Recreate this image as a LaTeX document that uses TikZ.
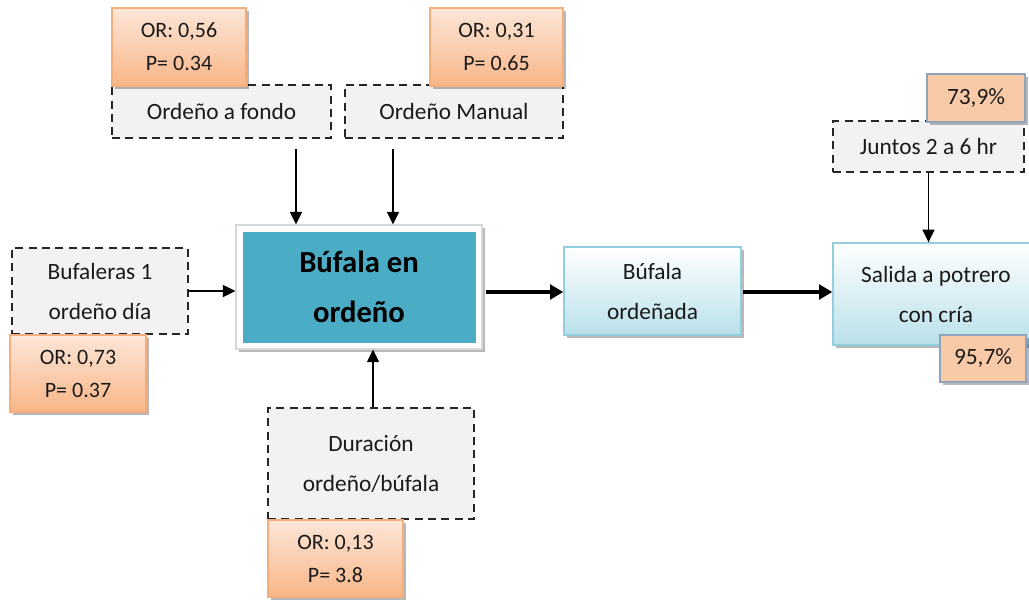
\documentclass[tikz,border=0pt]{standalone}
\usepackage{fontspec}
\setmainfont{Carlito}
\usetikzlibrary{shadows,calc,arrows.meta}

\definecolor{txt}{HTML}{1A1A1A}
\definecolor{dashfill}{HTML}{F2F2F2}
\definecolor{orTop}{HTML}{FCE6D8}
\definecolor{orBot}{HTML}{F8B687}
\definecolor{orLine}{HTML}{F3AE7C}
\definecolor{pctFill}{HTML}{F9CAA7}
\definecolor{pctLine}{HTML}{8FA3BB}
\definecolor{teal}{HTML}{4BACC6}
\definecolor{frameLine}{HTML}{D4D9DC}
\definecolor{blTop}{HTML}{FFFFFF}
\definecolor{blBot}{HTML}{B9E0EA}
\definecolor{blLine}{HTML}{93CEDD}

\tikzset{
  sz/.style 2 args={minimum width=#1*0.75pt, minimum height=#2*0.75pt, inner sep=0pt},
  shd/.style={drop shadow={shadow xshift=2.2pt, shadow yshift=-2.2pt, fill=black, opacity=0.28}},
  regtext/.style={text=txt, align=center, font=\fontsize{17.5}{30}\selectfont},
  dashbox/.style={regtext, draw=black!85, fill=dashfill, line width=1.7pt,
                  dash pattern=on 6pt off 4pt},
  orbox/.style={shd, draw=orLine, line width=0.8pt, top color=orTop, bottom color=orBot,
                text=txt, align=center, font=\fontsize{16.5}{24.75}\selectfont},
  pctbox/.style={shd, draw=pctLine, line width=1pt, fill=pctFill,
                 text=txt, font=\fontsize{17.5}{20}\selectfont},
  bluebox/.style={regtext, shd, draw=blLine, line width=1pt, top color=blTop, bottom color=blBot},
  thin arr/.style={draw=black, line width=1.2pt, -{Triangle[length=9.5pt,width=9pt]}},
  thick arr/.style={draw=black, line width=3pt, -{Triangle[length=10pt,width=11pt]}},
}

\begin{document}
\begin{tikzpicture}[x=0.75pt, y=-0.75pt]
\useasboundingbox (0,0) rectangle (1029,601);
\clip (0,0) rectangle (1029,601);

% factor boxes (dashed)
\node[dashbox, sz={219}{53}] (fondo) at (221.5,111.5) {Ordeño a fondo};
\node[dashbox, sz={218}{53}] (manual) at (454,111.5) {Ordeño Manual};
\node[dashbox, sz={176}{86}] (bufaleras) at (100,291) {Bufaleras 1\\ordeño día};
\node[dashbox, sz={206}{111}] (duracion) at (371,463.5) {Duración\\ordeño/búfala};
\node[dashbox, sz={191}{51}] (juntos) at (928.5,146.5) {Juntos 2 a 6 hr};

% odds ratio boxes
\node[orbox, sz={134}{78}] (or1) at (179,47) {OR: 0,56\\P= 0.34};
\node[orbox, sz={133}{78}] (or2) at (496.5,47) {OR: 0,31\\P= 0.65};
\node[orbox, sz={136}{77}] (or3) at (78,373.5) {OR: 0,73\\P= 0.37};
\node[orbox, sz={135}{77}] (or4) at (335.5,558.5) {OR: 0,13\\P= 3.8};

% central box: white frame with teal panel
\node[shd, draw=frameLine, line width=0.8pt, fill=white, sz={246}{124}] (main) at (359,287) {};
\node[fill=teal, sz={233}{111}, text=black, align=center,
      font=\fontsize{23}{37}\selectfont\bfseries] (maintxt) at (main.center) {Búfala en\\ordeño};

% outcome boxes
\node[bluebox, sz={177}{88}] (ordenada) at (652.5,291) {Búfala\\ordeñada};
\node[bluebox, sz={206}{102}] (salida) at (936,294) {Salida a potrero\\con cría};

% percentages
\node[pctbox, sz={98}{48}] (p739) at (976,98) {73,9\%};
\node[pctbox, sz={86}{47}] (p957) at (983,358.5) {95,7\%};

% connectors
\coordinate (s1) at ($(fondo.south)+(74.5,10)$);
\coordinate (s2) at ($(manual.south)+(-61,10)$);
\draw[thin arr] (s1) -- (s1 |- main.north);
\draw[thin arr] (s2) -- (s2 |- main.north);
\draw[thin arr] (bufaleras.east) -- (bufaleras.east -| main.west);
\coordinate (s3) at ($(duracion.north)+(2,0)$);
\draw[thin arr] (s3) -- (s3 |- main.south);
\draw[thin arr] (juntos.south) -- (juntos.south |- salida.north);

\coordinate (s4) at ($(main.east |- ordenada.west)+(3,1)$);
\draw[thick arr] (s4) -- (s4 -| ordenada.west);
\coordinate (s5) at ($(ordenada.east)+(1,1)$);
\draw[thick arr] (s5) -- (s5 -| salida.west);
\end{tikzpicture}
\end{document}
